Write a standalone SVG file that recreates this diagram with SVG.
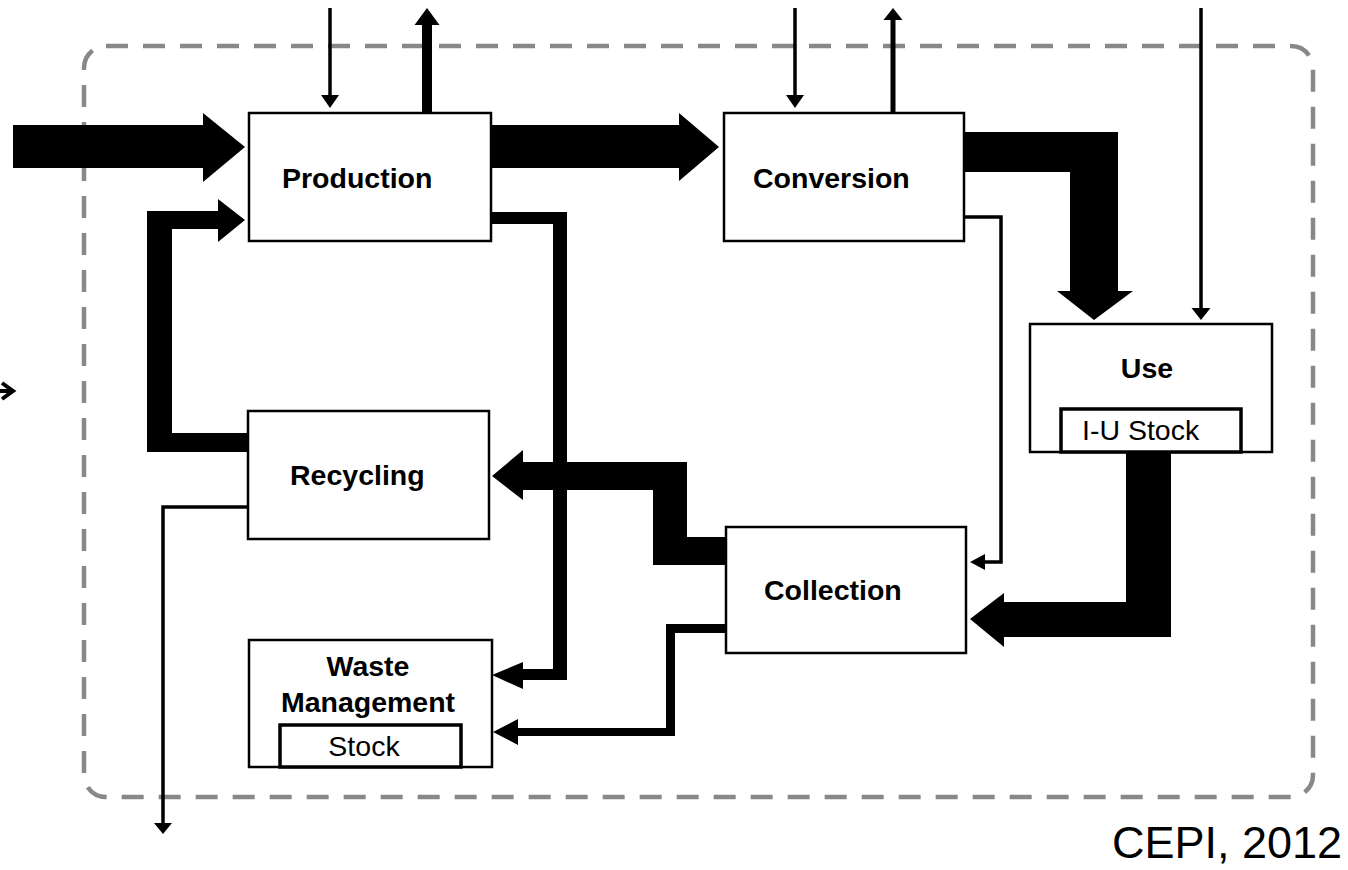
<svg xmlns="http://www.w3.org/2000/svg" width="1348" height="870" viewBox="0 0 1348 870">
  <style>
    .box { fill: #fff; stroke: #000; stroke-width: 2.5; }
    .stock { fill: #fff; stroke: #000; stroke-width: 3.5; }
    .lbl { font-family: "Liberation Sans", Arial, sans-serif; font-size: 28.5px; font-weight: bold; fill: #000; }
    .sub { font-family: "Liberation Sans", Arial, sans-serif; font-size: 28.5px; fill: #000; }
    .flow { fill: #000; stroke: none; }
    .thin { fill: none; stroke: #000; stroke-width: 3.5; }
  </style>

  <!-- system boundary -->
  <rect id="boundary" x="84" y="46" width="1229" height="751" rx="22" ry="22" fill="none" stroke="#888" stroke-width="4.5" stroke-dasharray="22 15"/>

  <g id="connectors">
    <!-- raw material input into Production -->
    <polygon class="flow" points="13,125 203,125 203,113 245,147 203,182 203,168 13,168"/>
    <!-- Production to Conversion -->
    <polygon class="flow" points="490,125 679,125 679,113 719,147 679,181 679,168 490,168"/>
    <!-- Conversion to Use -->
    <polygon class="flow" points="964,132 1118,132 1118,291 1133,291 1094,320 1057,291 1070,291 1070,172 964,172"/>
    <!-- Use to Collection -->
    <polygon class="flow" points="1126,452 1171,452 1171,637 1004,637 1004,647 970,619 1004,593 1004,602 1126,602"/>
    <!-- Collection to Recycling -->
    <polygon class="flow" points="726,537 726,565 653,565 653,490 523,490 523,500 492,476 523,450 523,462 687,462 687,537"/>
    <!-- Production to Waste Management -->
    <polygon class="flow" points="490,212 567,212 567,680 523,680 523,689 492,675 523,662 523,669 553,669 553,224 490,224"/>
    <!-- Collection to Waste Management -->
    <polygon class="flow" points="726,624 666,624 666,728 518,728 518,719 493,732 518,745 518,736 675,736 675,633 726,633"/>
    <!-- Recycling back to Production -->
    <polygon class="flow" points="247,433 172,433 172,229 218,229 218,242 245,220 218,199 218,211 147,211 147,452 247,452"/>

    <!-- inputs / outputs at the top -->
    <line class="thin" x1="330" y1="8" x2="330" y2="97"/>
    <polygon class="flow" points="321,95 339,95 330,108"/>
    <rect class="flow" x="422" y="20" width="10" height="93"/>
    <polygon class="flow" points="414.5,25 439.5,25 427,8"/>
    <line class="thin" x1="795" y1="8" x2="795" y2="97"/>
    <polygon class="flow" points="786,95 804,95 795,108"/>
    <rect class="flow" x="890.5" y="18" width="5" height="95"/>
    <polygon class="flow" points="883.5,20 902.5,20 893,8"/>
    <line class="thin" x1="1201" y1="8" x2="1201" y2="310"/>
    <polygon class="flow" points="1191.5,308 1210.5,308 1201,320"/>

    <!-- Conversion to Collection -->
    <polyline class="thin" points="964,217 1001,217 1001,562 985,562"/>
    <polygon class="flow" points="985,554 985,570 970,562"/>

    <!-- Recycling output leaving the system -->
    <polyline class="thin" points="247,507 163,507 163,824"/>
    <polygon class="flow" points="154,823 172,823 163,834"/>

    <!-- small arrow at the left edge -->
    <line x1="0" y1="391" x2="11" y2="391" stroke="#000" stroke-width="4"/>
    <polyline points="2,383 13,391 2,399" fill="none" stroke="#000" stroke-width="4"/>
  </g>

  <g id="production">
    <rect class="box" x="249" y="113" width="242" height="128"/>
    <text class="lbl" x="282" y="188">Production</text>
  </g>

  <g id="conversion">
    <rect class="box" x="724" y="113" width="240" height="128"/>
    <text class="lbl" x="753" y="188">Conversion</text>
  </g>

  <g id="use">
    <rect class="box" x="1030" y="324" width="242" height="128"/>
    <text class="lbl" x="1147" y="378" text-anchor="middle">Use</text>
    <rect class="stock" x="1061" y="409" width="180" height="43"/>
    <text class="sub" x="1082" y="440">I-U Stock</text>
  </g>

  <g id="recycling">
    <rect class="box" x="248" y="411" width="241" height="128"/>
    <text class="lbl" x="290" y="485">Recycling</text>
  </g>

  <g id="collection">
    <rect class="box" x="726" y="527" width="240" height="126"/>
    <text class="lbl" x="764" y="600">Collection</text>
  </g>

  <g id="waste-management">
    <rect class="box" x="249" y="640" width="243" height="127"/>
    <text class="lbl" x="368" y="676" text-anchor="middle">Waste</text>
    <text class="lbl" x="368" y="712" text-anchor="middle">Management</text>
    <rect class="stock" x="280" y="725" width="181" height="42"/>
    <text class="sub" x="364" y="756" text-anchor="middle">Stock</text>
  </g>

  <text id="source" x="1112" y="858" font-family="'Liberation Sans', Arial, sans-serif" font-size="45" fill="#000">CEPI, 2012</text>
</svg>
